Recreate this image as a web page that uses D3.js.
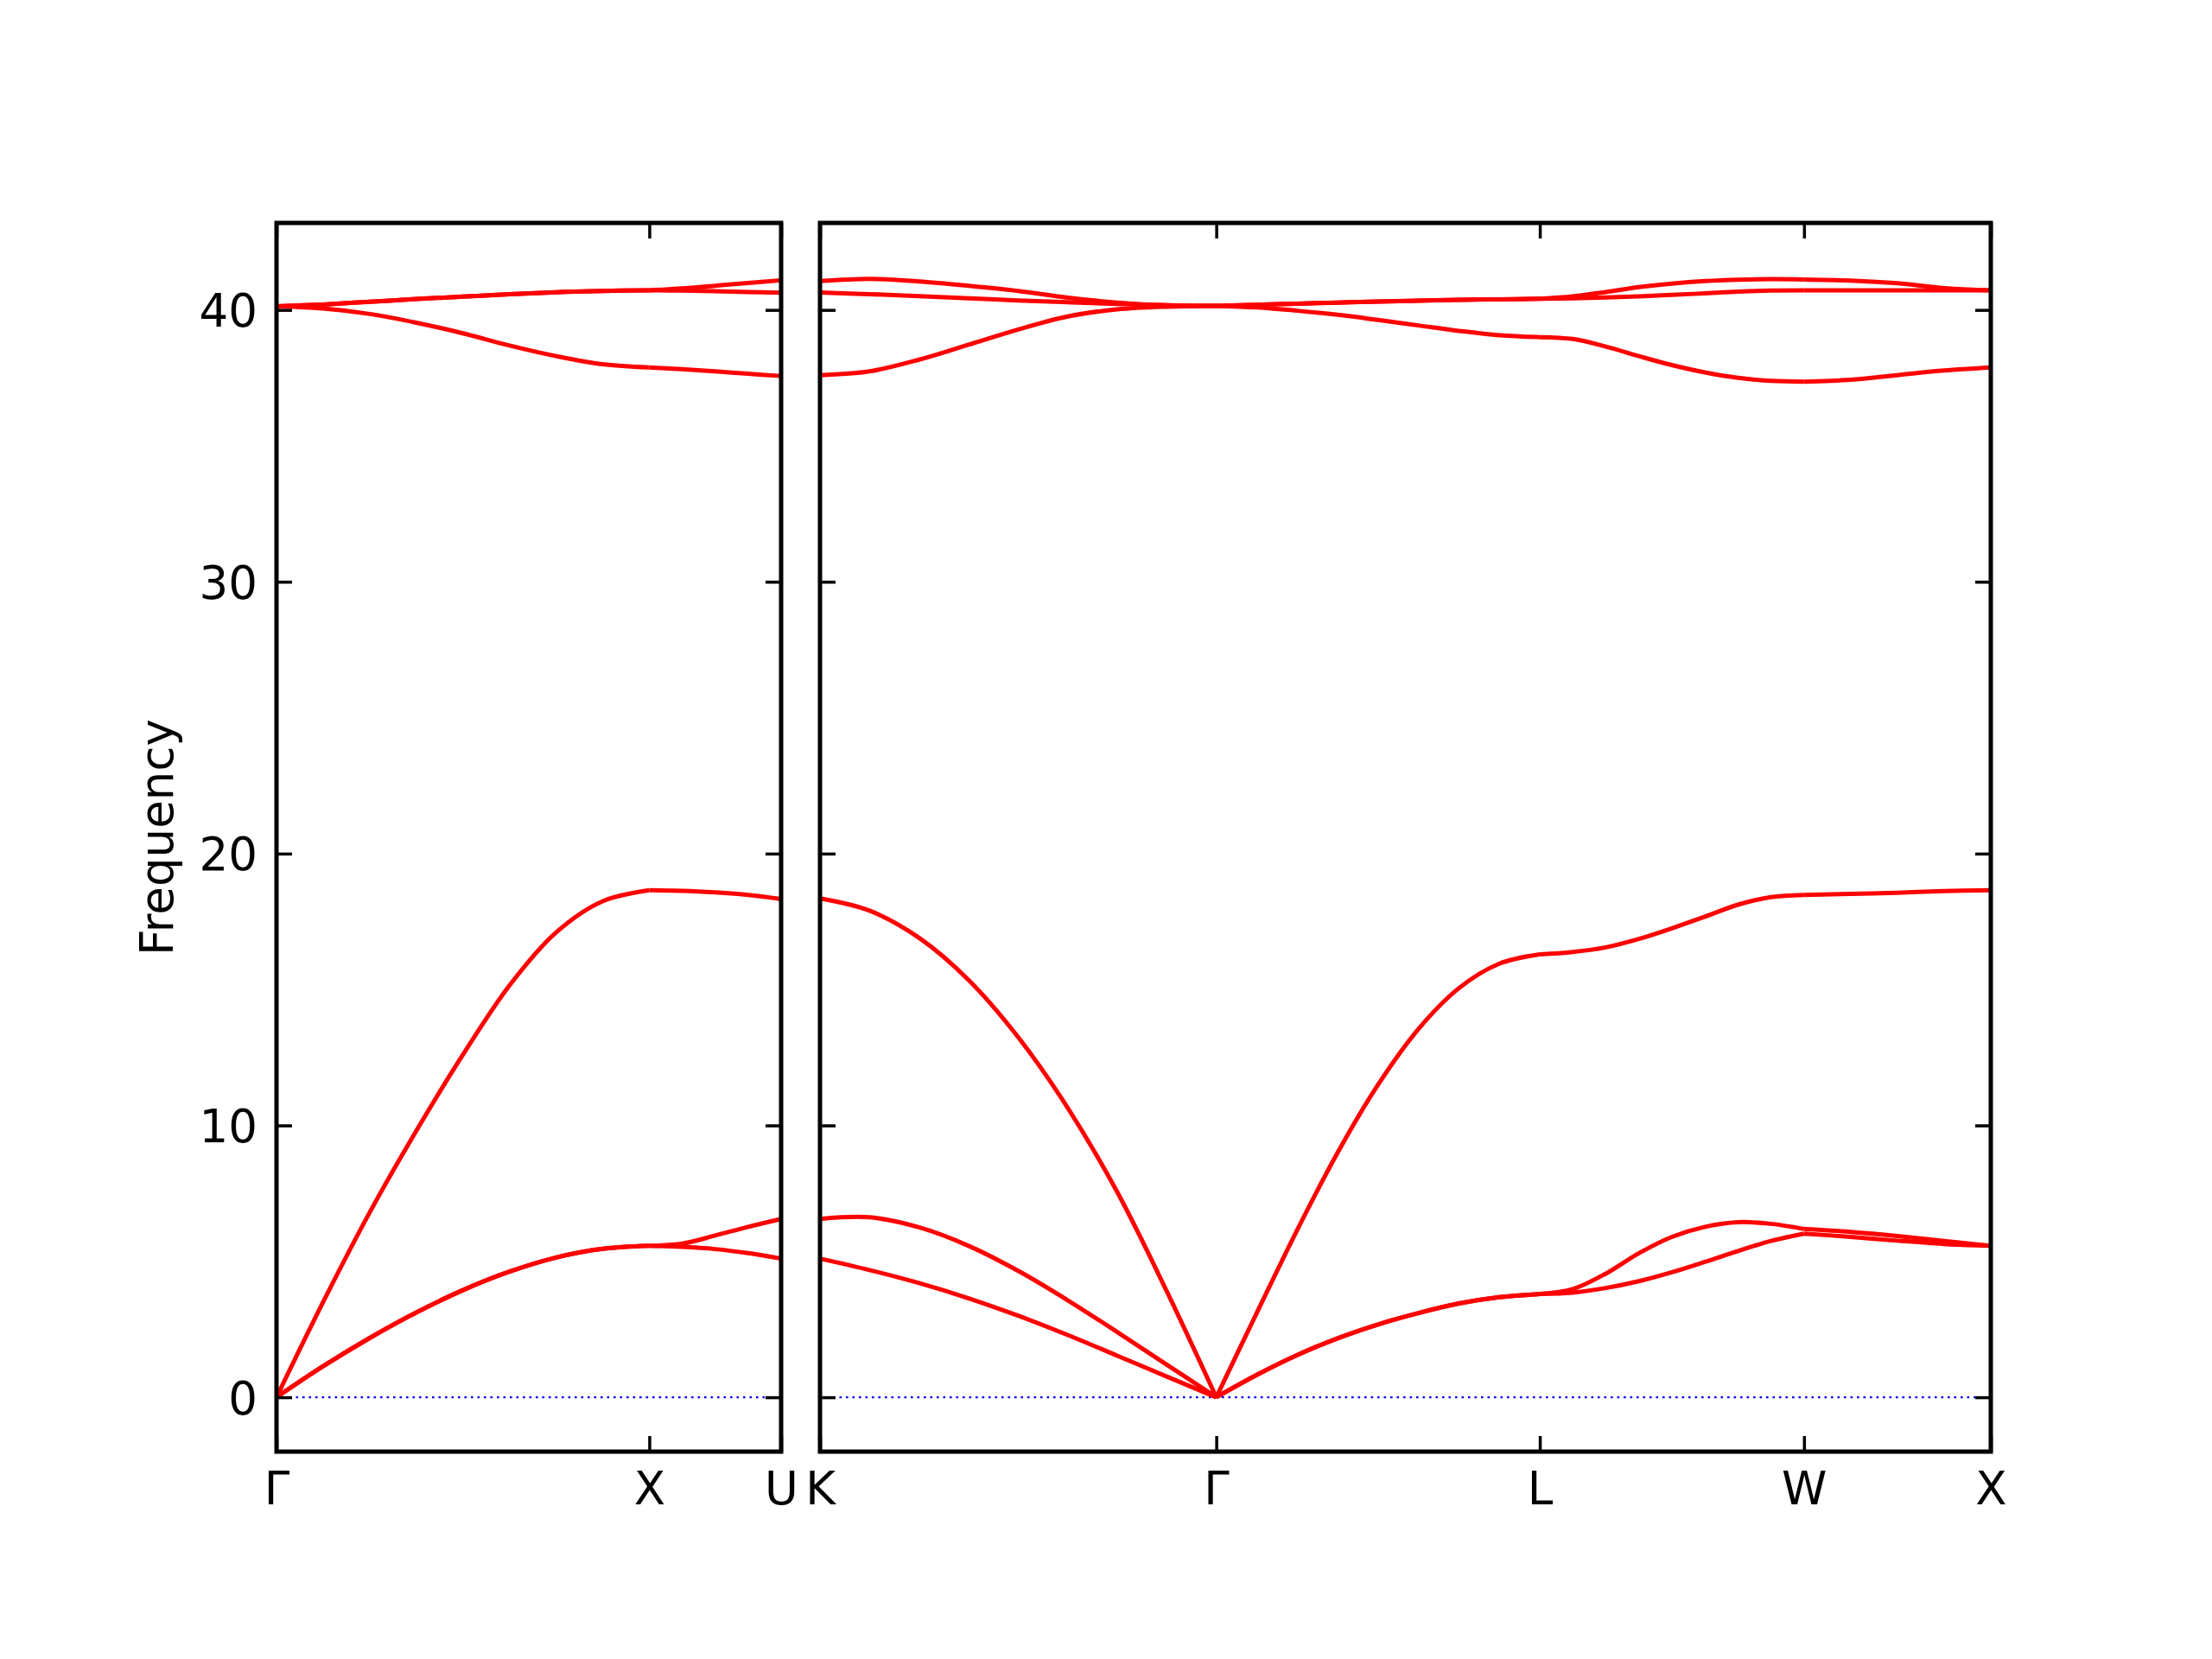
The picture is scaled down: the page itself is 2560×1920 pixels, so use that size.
<!DOCTYPE html>
<html>
<head>
<meta charset="utf-8">
<script src="https://cdn.jsdelivr.net/npm/d3@7"></script>
<style>
  html, body { margin: 0; padding: 0; background: #fff; }
  svg { display: block; }
</style>
</head>
<body>
<svg id="chart" width="2560" height="1920"></svg>
<script>
// ---- data ----
// path segments (reciprocal-space distances) and which panel they belong to
const segLabels = [["Γ","X"],["X","U"],["K","Γ"],["Γ","L"],["L","W"],["W","X"]];
const segLengths = [1.0, 0.3536, 1.0607, 0.8660, 0.7071, 0.5];
const segPanel = [0, 0, 1, 1, 1, 1];

const frac9 = [0, 0.125, 0.25, 0.375, 0.5, 0.625, 0.75, 0.875, 1];
const frac5 = [0, 0.25, 0.5, 0.75, 1];

// bands per segment: TA1, TA2, LA, O-low, O-mid, O-top
const bandsGX = [
  [0, 1.14, 2.18, 3.12, 3.94, 4.62, 5.14, 5.46, 5.57],
  [0, 1.14, 2.18, 3.12, 3.94, 4.62, 5.14, 5.46, 5.57],
  [0, 3.5, 6.8, 9.8, 12.6, 15.15, 17.1, 18.25, 18.65],
  [40.13, 40.05, 39.85, 39.53, 39.14, 38.69, 38.30, 38.00, 37.88],
  [40.13, 40.20, 40.30, 40.40, 40.49, 40.58, 40.65, 40.70, 40.72],
  [40.13, 40.20, 40.30, 40.40, 40.49, 40.58, 40.65, 40.70, 40.72]
];
const bandsXU = [
  [5.57, 5.65, 5.95, 6.27, 6.56],
  [5.57, 5.53, 5.45, 5.30, 5.10],
  [18.65, 18.63, 18.57, 18.48, 18.33],
  [37.88, 37.82, 37.74, 37.65, 37.57],
  [40.72, 40.71, 40.69, 40.66, 40.63],
  [40.72, 40.79, 40.89, 40.99, 41.09]
];
const bandsKG = [
  [6.56, 6.62, 6.25, 5.57, 4.65, 3.57, 2.40, 1.20, 0],
  [5.10, 4.68, 4.20, 3.64, 3.00, 2.29, 1.53, 0.76, 0],
  [18.35, 17.90, 16.90, 15.35, 13.25, 10.65, 7.55, 3.90, 0],
  [37.60, 37.74, 38.17, 38.72, 39.28, 39.76, 40.02, 40.12, 40.15],
  [40.64, 40.58, 40.51, 40.43, 40.35, 40.28, 40.22, 40.17, 40.15],
  [41.06, 41.14, 41.05, 40.89, 40.70, 40.45, 40.27, 40.17, 40.15]
];
const bandsGL = [
  [0, 0.82, 1.55, 2.17, 2.68, 3.10, 3.45, 3.68, 3.80],
  [0, 0.82, 1.55, 2.17, 2.68, 3.10, 3.45, 3.68, 3.80],
  [0, 3.10, 6.15, 9.00, 11.50, 13.55, 15.05, 15.95, 16.29],
  [40.15, 40.09, 39.97, 39.82, 39.63, 39.43, 39.23, 39.07, 39.00],
  [40.15, 40.19, 40.23, 40.27, 40.31, 40.34, 40.37, 40.39, 40.41],
  [40.15, 40.19, 40.23, 40.27, 40.31, 40.34, 40.37, 40.39, 40.41]
];
const bandsLW = [
  [3.80, 3.98, 4.55, 5.30, 5.90, 6.27, 6.44, 6.38, 6.19],
  [3.80, 3.85, 4.02, 4.27, 4.60, 4.98, 5.38, 5.75, 6.02],
  [16.29, 16.38, 16.55, 16.86, 17.25, 17.68, 18.12, 18.40, 18.48],
  [39.00, 38.93, 38.65, 38.30, 37.97, 37.70, 37.50, 37.39, 37.36],
  [40.41, 40.43, 40.46, 40.50, 40.55, 40.61, 40.67, 40.71, 40.72],
  [40.41, 40.50, 40.66, 40.84, 40.97, 41.06, 41.11, 41.13, 41.12]
];
const bandsWX = [
  [6.19, 6.08, 5.93, 5.75, 5.57],
  [6.02, 5.90, 5.76, 5.64, 5.57],
  [18.48, 18.52, 18.56, 18.62, 18.65],
  [37.36, 37.43, 37.60, 37.77, 37.88],
  [40.72, 40.72, 40.72, 40.72, 40.72],
  [41.12, 41.08, 40.98, 40.80, 40.72]
];
const segBands = [bandsGX, bandsXU, bandsKG, bandsGL, bandsLW, bandsWX];
const segFracs = [frac9, frac5, frac9, frac9, frac9, frac5];

const yTicks = [0, 10, 20, 30, 40];
const yDomain = [-2, 43.2];
const yLabel = "Frequency";

// ---- layout ----
const svg = d3.select("#chart");
const plotTop = 258, plotBottom = 1680;
const panelsPx = [[320, 904], [949, 2304]];
const FONT = "DejaVu Sans, Liberation Sans, sans-serif";
const FS = 53;

const y = d3.scaleLinear().domain(yDomain).range([plotBottom, plotTop]);

// cumulative distances per panel
const panels = [{starts: [], ticks: [], labels: []}, {starts: [], ticks: [], labels: []}];
segLabels.forEach((lab, i) => {
  const p = panels[segPanel[i]];
  if (!p.ticks.length) { p.ticks.push(0); p.labels.push(lab[0]); }
  const start = p.ticks[p.ticks.length - 1];
  p.starts[i] = start;
  p.ticks.push(start + segLengths[i]);
  p.labels.push(lab[1]);
});
panels.forEach((p, k) => {
  p.x = d3.scaleLinear().domain([0, p.ticks[p.ticks.length - 1]]).range(panelsPx[k]);
});

// zero line
panels.forEach(p => {
  svg.append("line")
    .attr("x1", p.x.range()[0]).attr("x2", p.x.range()[1])
    .attr("y1", y(0)).attr("y2", y(0))
    .attr("stroke", "#0000ff").attr("stroke-width", 2.4)
    .attr("stroke-dasharray", "2.6 4.9");
});

// bands
const line = d3.line().curve(d3.curveCatmullRom.alpha(0.5));
segBands.forEach((bands, i) => {
  const p = panels[segPanel[i]];
  const fr = segFracs[i];
  bands.forEach(b => {
    const pts = b.map((v, j) => [p.x(p.starts[i] + fr[j] * segLengths[i]), y(v)]);
    svg.append("path")
      .attr("d", line(pts))
      .attr("fill", "none")
      .attr("stroke", "#ff0000")
      .attr("stroke-width", 5)
      .attr("stroke-linejoin", "round");
  });
});

// axes
const TL = 18;
panels.forEach((p, k) => {
  const bAx = d3.axisBottom(p.x).tickValues(p.ticks)
    .tickFormat((d, i) => p.labels[i]).tickSize(-TL).tickPadding(23);
  svg.append("g").attr("class", "axb").attr("transform", `translate(0,${plotBottom})`).call(bAx);
  const tAx = d3.axisTop(p.x).tickValues(p.ticks).tickFormat("").tickSize(-TL);
  svg.append("g").attr("transform", `translate(0,${plotTop})`).call(tAx);
  const lAx = d3.axisLeft(y).tickValues(yTicks).tickSize(-TL).tickPadding(22)
    .tickFormat(k === 0 ? d3.format("d") : () => "");
  svg.append("g").attr("class", "axl").attr("transform", `translate(${p.x.range()[0]},0)`).call(lAx);
  const rAx = d3.axisRight(y).tickValues(yTicks).tickSize(-TL).tickFormat("");
  svg.append("g").attr("transform", `translate(${p.x.range()[1]},0)`).call(rAx);

  svg.append("rect")
    .attr("x", p.x.range()[0]).attr("y", plotTop)
    .attr("width", p.x.range()[1] - p.x.range()[0]).attr("height", plotBottom - plotTop)
    .attr("fill", "none").attr("stroke", "#000").attr("stroke-width", 5);
});

svg.selectAll(".domain").remove();
svg.selectAll(".tick line").attr("stroke", "#000").attr("stroke-width", 3.5);
svg.selectAll(".tick text")
  .attr("font-family", FONT).attr("font-size", FS).attr("fill", "#000");
svg.selectAll(".axl .tick text").attr("dy", "0.36em");

// y label
svg.append("text")
  .attr("transform", `translate(200,${(plotTop + plotBottom) / 2}) rotate(-90)`)
  .attr("text-anchor", "middle")
  .attr("font-family", FONT).attr("font-size", FS)
  .text(yLabel);
</script>
</body>
</html>
